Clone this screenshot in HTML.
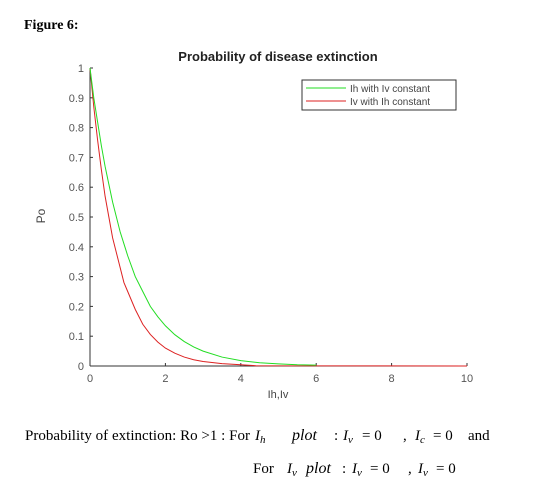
<!DOCTYPE html>
<html><head><meta charset="utf-8"><style>
body{margin:0;background:#fff;width:538px;height:490px;overflow:hidden;font-family:"Liberation Serif",serif}
</style></head><body>
<svg width="538" height="490" viewBox="0 0 538 490" xmlns="http://www.w3.org/2000/svg">
<text x="24" y="29" font-family="Liberation Serif" font-weight="bold" font-size="14">Figure 6:</text>
<text x="278" y="61" text-anchor="middle" font-family="Liberation Sans" font-weight="bold" font-size="13" fill="#222">Probability of disease extinction</text>
<g id="axes"></g>
<g id="series"></g>
<text transform="translate(45,216) rotate(-90)" text-anchor="middle" font-family="Liberation Sans" font-size="12" fill="#444">Po</text>
<text x="278" y="398" text-anchor="middle" font-family="Liberation Sans" font-size="11" fill="#444">Ih,Iv</text>
<g>
<rect x="302" y="80" width="154" height="30" fill="#fff" stroke="#333" stroke-width="1"/>
<line x1="306" y1="88" x2="346" y2="88" stroke="#22dd22" stroke-width="1"/>
<line x1="306" y1="101" x2="346" y2="101" stroke="#dd2222" stroke-width="1"/>
<text x="350" y="92" font-family="Liberation Sans" font-size="10" fill="#444">Ih with Iv constant</text>
<text x="350" y="105" font-family="Liberation Sans" font-size="10" fill="#444">Iv with Ih constant</text>
</g>
<g font-family="Liberation Serif" font-size="15">
<text x="25" y="440" textLength="225">Probability of extinction: Ro &gt;1 : For</text>
<text x="255" y="440" font-style="italic">I<tspan font-size="11" dy="3">h</tspan></text>
<text x="292" y="440" font-style="italic" font-size="16">plot</text>
<text x="334" y="440">:</text>
<text x="343" y="440" font-style="italic">I<tspan font-size="11" dy="3">v</tspan></text>
<text x="362" y="440">= 0</text>
<text x="403" y="440">,</text>
<text x="415" y="440" font-style="italic">I<tspan font-size="11" dy="3">c</tspan></text>
<text x="433" y="440">= 0</text>
<text x="468" y="440">and</text>
</g>
<g font-family="Liberation Serif" font-size="15">
<text x="253" y="473">For</text>
<text x="287" y="473" font-style="italic">I<tspan font-size="11" dy="3">v</tspan></text>
<text x="306" y="473" font-style="italic" font-size="16">plot</text>
<text x="342" y="473">:</text>
<text x="352" y="473" font-style="italic">I<tspan font-size="11" dy="3">v</tspan></text>
<text x="370" y="473">= 0</text>
<text x="408" y="473">,</text>
<text x="418" y="473" font-style="italic">I<tspan font-size="11" dy="3">v</tspan></text>
<text x="436" y="473">= 0</text>
</g>
</svg>
<script>
const xTicks=[0,2,4,6,8,10];
const yTicks=[0,0.1,0.2,0.3,0.4,0.5,0.6,0.7,0.8,0.9,1];
const yTickLabels=["0","0.1","0.2","0.3","0.4","0.5","0.6","0.7","0.8","0.9","1"];
const greenX=[0,0.1,0.2,0.3,0.4,0.5,0.6,0.7,0.8,0.9,1,1.2,1.4,1.6,1.8,2,2.25,2.5,2.75,3,3.5,4,4.5,5,5.5,6];
const greenY=[1,0.9,0.82,0.74,0.67,0.61,0.55,0.5,0.45,0.41,0.37,0.3,0.25,0.2,0.165,0.135,0.105,0.082,0.064,0.05,0.03,0.018,0.011,0.007,0.004,0.003];
const redX=[0,0.1,0.2,0.3,0.4,0.5,0.6,0.7,0.8,0.9,1,1.2,1.4,1.6,1.8,2,2.25,2.5,2.75,3,3.5,4,4.4,10];
const redY=[1,0.87,0.76,0.66,0.57,0.5,0.43,0.38,0.33,0.28,0.25,0.19,0.14,0.106,0.08,0.06,0.043,0.03,0.021,0.015,0.008,0.004,0.001,0];
const NS="http://www.w3.org/2000/svg";
const X=v=>90+v*37.7, Y=v=>366-v*298;
function mk(t,a,p){const e=document.createElementNS(NS,t);for(const k in a)e.setAttribute(k,a[k]);p.appendChild(e);return e;}
const ax=document.getElementById('axes');
const yl=mk('line',{x1:X(0),y1:Y(0),x2:X(0),y2:Y(1),stroke:'#333'},ax);


const xl=mk('line',{x1:X(0),y1:Y(0),x2:X(10),y2:Y(0),stroke:'#333'},ax);


xTicks.forEach(v=>{
 mk('line',{x1:X(v),y1:Y(0),x2:X(v),y2:Y(0)-3,stroke:'#333'},ax);
 const t=mk('text',{x:X(v),y:Y(0)+16,'text-anchor':'middle','font-family':'Liberation Sans','font-size':'11',fill:'#555'},ax);
 t.textContent=v;
 
 
});
yTicks.forEach((v,i)=>{
 mk('line',{x1:X(0),y1:Y(v),x2:X(0)+3,y2:Y(v),stroke:'#333'},ax);
 const t=mk('text',{x:X(0)-6,y:Y(v)+4,'text-anchor':'end','font-family':'Liberation Sans','font-size':'11',fill:'#555'},ax);
 t.textContent=yTickLabels[i];
 
 
});
const sg=document.getElementById('series');
function line(xs,ys,c,n){
 const p=mk('polyline',{points:xs.map((x,i)=>X(x)+','+Y(ys[i])).join(' '),fill:'none',stroke:c,'stroke-width':1},sg);
 
 
}
line(redX,redY,'#dd2222','series-iv-with-ih-constant');
line(greenX,greenY,'#22dd22','series-ih-with-iv-constant');
</script>
</body></html>
